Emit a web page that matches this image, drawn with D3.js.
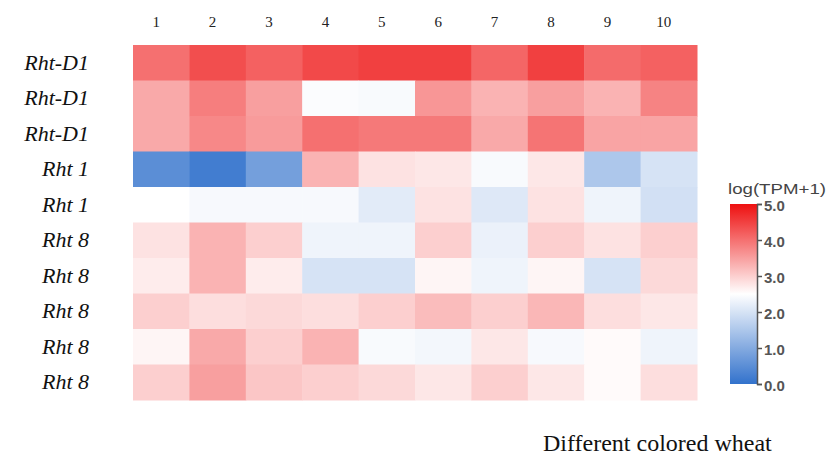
<!DOCTYPE html>
<html>
<head>
<meta charset="utf-8">
<script src="https://cdn.jsdelivr.net/npm/d3@7"></script>
<style>
  body { margin: 0; background: #fff; }
</style>
</head>
<body>
<svg id="drawing_region"></svg>
<script>
// samples (columns) and genes (rows)
const samples = ['1', '2', '3', '4', '5', '6', '7', '8', '9', '10'];
const genes = ['Rht-D1', 'Rht-D1', 'Rht-D1', 'Rht 1', 'Rht 1',
               'Rht 8', 'Rht 8', 'Rht 8', 'Rht 8', 'Rht 8'];

// log(TPM+1), one array per row
const row1  = [4.0, 4.35, 4.15, 4.4, 4.5, 4.5, 4.1, 4.5, 4.05, 4.15];
const row2  = [3.4, 3.85, 3.5, 2.45, 2.42, 3.6, 3.3, 3.5, 3.3, 3.8];
const row3  = [3.4, 3.75, 3.55, 4.0, 3.9, 3.9, 3.4, 3.95, 3.45, 3.45];
const row4  = [0.5, 0.2, 0.8, 3.3, 2.8, 2.75, 2.42, 2.75, 1.5, 2.0];
const row5  = [2.5, 2.4, 2.4, 2.4, 2.15, 2.8, 2.1, 2.8, 2.3, 1.95];
const row6  = [2.8, 3.3, 3.0, 2.3, 2.3, 3.0, 2.25, 3.0, 2.8, 3.0];
const row7  = [2.7, 3.3, 2.7, 2.0, 2.0, 2.6, 2.3, 2.6, 2.0, 2.9];
const row8  = [3.0, 2.85, 2.9, 2.85, 3.0, 3.2, 3.0, 3.25, 2.85, 2.75];
const row9  = [2.6, 3.4, 3.0, 3.3, 2.42, 2.35, 2.75, 2.4, 2.55, 2.3];
const row10 = [3.0, 3.5, 3.1, 3.0, 2.9, 2.75, 3.0, 2.75, 2.55, 2.85];

const legendTicks = [0, 1, 2, 3, 4, 5];

const rows = [row1, row2, row3, row4, row5, row6, row7, row8, row9, row10];

const data = [];
rows.forEach((r, i) => {
    r.forEach((v, j) => {
        data.push({ row: i, col: samples[j], value: v });
    });
});

draw(data);

function draw(data) {

    const width  = 829;
    const height = 463;

    const svg = d3.select('#drawing_region')
        .attr('width', width)
        .attr('height', height);

    const xscale = d3.scaleBand()
        .domain(samples)
        .range([133, 697]);

    const yscale = d3.scaleBand()
        .domain(d3.range(genes.length))
        .range([45, 400]);

    const color = d3.scaleLinear()
        .domain([0, 2.5, 5])
        .range(['#3272cc', '#ffffff', '#ee1010']);

    svg.append('g')
        .selectAll('rect')
        .data(data)
        .enter()
        .append('rect')
        .attr('x', d => xscale(d.col))
        .attr('y', d => yscale(d.row))
        .attr('width', xscale.bandwidth() + 0.5)
        .attr('height', yscale.bandwidth() + 0.5)
        .attr('fill', d => color(d.value));

    // column labels
    svg.append('g')
        .selectAll('text')
        .data(samples)
        .enter()
        .append('text')
        .attr('x', d => xscale(d) + xscale.bandwidth() / 2 - 5)
        .attr('y', 27)
        .attr('text-anchor', 'middle')
        .attr('font-family', '"Liberation Serif", serif')
        .attr('font-size', '15px')
        .attr('fill', '#222')
        .text(d => d);

    // row labels
    svg.append('g')
        .selectAll('text')
        .data(genes)
        .enter()
        .append('text')
        .attr('x', 89)
        .attr('y', (d, i) => yscale(i) + yscale.bandwidth() / 2 + 7)
        .attr('text-anchor', 'end')
        .attr('font-family', '"Liberation Serif", serif')
        .attr('font-style', 'italic')
        .attr('font-size', '22px')
        .attr('fill', '#111')
        .text(d => d);

    // x title
    svg.append('text')
        .attr('x', 543)
        .attr('y', 451)
        .attr('font-family', '"Liberation Serif", serif')
        .attr('font-size', '24px')
        .attr('fill', '#111')
        .text('Different colored wheat');

    // colour legend
    const lx = 730, lw = 27;
    const lscale = d3.scaleLinear()
        .domain([0, 5])
        .range([384, 204]);

    const defs = svg.append('defs');
    const grad = defs.append('linearGradient')
        .attr('id', 'grad')
        .attr('x1', '0%').attr('x2', '0%')
        .attr('y1', '100%').attr('y2', '0%');
    d3.range(0, 5.01, 0.5).forEach(v => {
        grad.append('stop')
            .attr('offset', (v / 5 * 100) + '%')
            .attr('stop-color', color(v));
    });

    svg.append('rect')
        .attr('x', lx)
        .attr('y', lscale(5))
        .attr('width', lw)
        .attr('height', lscale(0) - lscale(5))
        .attr('fill', 'url(#grad)');

    const axis = svg.append('g')
        .attr('transform', `translate(${lx + lw}, 0)`)
        .call(d3.axisRight(lscale)
            .tickValues(legendTicks)
            .tickFormat(d3.format('.1f'))
            .tickSize(5));

    axis.select('.domain').attr('stroke', '#555').attr('stroke-width', 1.5);
    axis.selectAll('.tick line').attr('stroke', '#555').attr('stroke-width', 1.5);
    axis.selectAll('.tick text')
        .attr('x', 7)
        .attr('dy', '0.4em')
        .attr('font-family', '"Liberation Sans", Arial, sans-serif')
        .attr('font-size', '15px')
        .attr('font-weight', 'bold')
        .attr('fill', '#555');

    svg.append('text')
        .attr('x', 728)
        .attr('y', 194)
        .attr('font-family', '"Liberation Sans", Arial, sans-serif')
        .attr('font-size', '14px')
        .attr('textLength', 98)
        .attr('lengthAdjust', 'spacingAndGlyphs')
        .attr('fill', '#444')
        .text('log(TPM+1)');
}
</script>
</body>
</html>
